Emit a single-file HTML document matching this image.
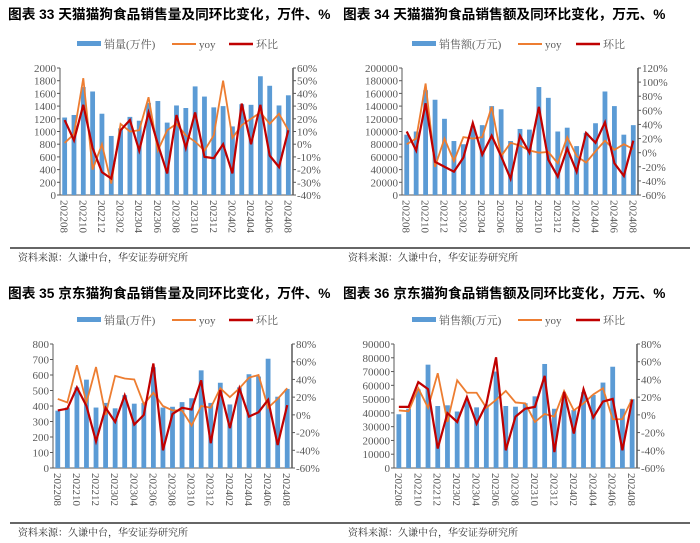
<!DOCTYPE html>
<html><head><meta charset="utf-8">
<style>
body{margin:0;background:#fff;width:700px;height:543px;overflow:hidden}
svg{display:block}
.t{font-family:"Liberation Sans","Noto Sans CJK SC",sans-serif;font-weight:bold;font-size:13.7px;fill:#000}
.s{font-family:"Liberation Serif","Noto Serif CJK SC",serif;font-size:10px;fill:#333}
.tk{font-family:"Liberation Serif",serif;font-size:11px;fill:#595959}
.lg{font-family:"Liberation Serif","Noto Serif CJK SC",serif;font-size:11px;fill:#595959}
</style></head>
<body>
<svg id="c" width="700" height="543" xmlns="http://www.w3.org/2000/svg">
<text class="t" x="8" y="19">图表 33 天猫猫狗食品销售量及同环比变化，万件、%</text>
<text class="t" x="343" y="19">图表 34 天猫猫狗食品销售额及同环比变化，万元、%</text>
<text class="t" x="8" y="298">图表 35 京东猫狗食品销售量及同环比变化，万件、%</text>
<text class="t" x="343" y="298">图表 36 京东猫狗食品销售额及同环比变化，万元、%</text>
<line x1="10" y1="248" x2="690" y2="248" stroke="#333" stroke-width="1.5"/>
<line x1="10" y1="523" x2="690" y2="523" stroke="#333" stroke-width="1.5"/>
<text class="s" x="18" y="261">资料来源：久谦中台，华安证券研究所</text>
<text class="s" x="348" y="261">资料来源：久谦中台，华安证券研究所</text>
<text class="s" x="18" y="536">资料来源：久谦中台，华安证券研究所</text>
<text class="s" x="348" y="536">资料来源：久谦中台，华安证券研究所</text>
</svg>
<script>
const months=["202208","202209","202210","202211","202212","202301","202302","202303","202304","202305","202306","202307","202308","202309","202310","202311","202312","202401","202402","202403","202404","202405","202406","202407","202408"];
const p1Bars=[1220,1260,1700,1630,1280,930,1050,1230,1170,1450,1480,1140,1410,1370,1710,1550,1380,1400,1080,1430,1420,1870,1720,1410,1570];
const p1Yoy=[1,8,52,-20,0,-31,16,10,11,37,-5,11,16,7,2,-5,7,50,5,15,20,25,16,24,11];
const p1Mom=[19,3,31,-3,-22,-27,11,19,-5,25,0,-23,23,-3,25,-10,-11,0,-23,32,0,31,-9,-18,11];
const p1LeftTicks=[0,200,400,600,800,1000,1200,1400,1600,1800,2000];
const p1RightTicks=[-40,-30,-20,-10,0,10,20,30,40,50,60];
const p2Bars=[95000,100000,165000,150000,120000,85000,80000,108000,110000,140000,135000,85000,104000,103000,170000,153000,100000,106000,77000,98000,113000,163000,140000,95000,110000];
const p2Yoy=[12,20,98,-20,20,-12,22,20,22,65,-5,14,10,3,0,1,-15,22,-5,-14,2,17,4,12,5];
const p2Mom=[30,3,70,-13,-20,-27,-7,42,-3,24,-5,-37,24,0,65,-10,-34,6,-27,28,14,43,-15,-33,17];
const p2LeftTicks=[0,20000,40000,60000,80000,100000,120000,140000,160000,180000,200000];
const p2RightTicks=[-60,-40,-20,0,20,40,60,80,100,120];
const p3Bars=[370,390,520,570,390,420,385,470,415,420,650,390,395,425,450,630,420,550,410,520,605,590,705,460,510];
const p3Yoy=[18,14,56,14,54,0,44,41,40,12,25,10,5,5,-12,10,8,30,20,30,42,45,8,18,30];
const p3Mom=[5,7,31,10,-30,8,-8,22,-11,0,58,-40,1,8,6,39,-32,28,-15,30,-2,3,17,-34,11];
const p3LeftTicks=[0,100,200,300,400,500,600,700,800];
const p3RightTicks=[-60,-40,-20,0,20,40,60,80];
const p4Bars=[39000,43000,57000,75000,45000,45500,41000,49000,44000,46000,70000,45000,44500,47000,52000,75500,43000,52000,42000,55000,53000,62000,73500,43000,50000];
const p4Yoy=[5,4,30,8,47,-8,39,25,25,8,17,27,14,13,-8,1,-2,27,5,13,23,30,-5,-5,18];
const p4Mom=[9,9,37,29,-38,2,-8,20,-10,12,65,-40,-2,7,9,44,-42,26,-21,29,-3,15,18,-40,17];
const p4LeftTicks=[0,10000,20000,30000,40000,50000,60000,70000,80000,90000];
const p4RightTicks=[-60,-40,-20,0,20,40,60,80];

const svg=document.getElementById('c');
const NS='http://www.w3.org/2000/svg';
function mk(tag,attrs,parent){const e=document.createElementNS(NS,tag);for(const k in attrs)e.setAttribute(k,attrs[k]);(parent||svg).appendChild(e);return e;}

function panel(id,box,bars,yoy,mom,lt,rt,barLabel,legY,legX){
  const g=mk('g',{});
  
  
  const [x0,x1,y0,y1]=box;
  const lmin=lt[0],lmax=lt[lt.length-1],rmin=rt[0],rmax=rt[rt.length-1];
  const n=months.length, step=(x1-x0)/n;
  const xs=i=>x0+step*(i+0.5);
  const yl=v=>y1-(v-lmin)/(lmax-lmin)*(y1-y0);
  const yr=v=>y1-(v-rmin)/(rmax-rmin)*(y1-y0);
  const ax=mk('line',{x1:x0,y1:y0,x2:x0,y2:y1,stroke:'#595959','stroke-width':1},g);
  
  
  const ax2=mk('line',{x1:x1,y1:y0,x2:x1,y2:y1,stroke:'#595959','stroke-width':1.5},g);
  
  
  const ax3=mk('line',{x1:x0,y1:y1,x2:x1,y2:y1,stroke:'#595959','stroke-width':1},g);
  
  
  lt.forEach(v=>{const t=mk('text',{x:x0-4,y:yl(v)+4,'text-anchor':'end',class:'tk'},g);t.textContent=v;
    
    
    mk('line',{x1:x0-3,x2:x0,y1:yl(v),y2:yl(v),stroke:'#595959'},g);});
  rt.forEach(v=>{const t=mk('text',{x:x1+4,y:yr(v)+4,class:'tk'},g);t.textContent=v+'%';
    
    
    mk('line',{x1:x1,x2:x1+3,y1:yr(v),y2:yr(v),stroke:'#595959'},g);});
  bars.forEach((v,i)=>{const r=mk('rect',{x:xs(i)-2.4,y:yl(v),width:4.8,height:y1-yl(v),fill:'#5B9BD5'},g);
    
    });
  const py=mk('polyline',{points:yoy.map((v,i)=>xs(i)+','+yr(v)).join(' '),fill:'none',stroke:'#ED7D31','stroke-width':1.8},g);
  
  
  const pm=mk('polyline',{points:mom.map((v,i)=>xs(i)+','+yr(v)).join(' '),fill:'none',stroke:'#C00000','stroke-width':2.2},g);
  
  
  months.forEach((m,i)=>{if(i%2)return;const t=mk('text',{x:0,y:0,class:'tk',transform:`translate(${xs(i)-4},${y1+5}) rotate(90)`},g);t.textContent=m;
    
    });
  const L=mk('g',{},g);
  
  
  mk('rect',{x:legX[0],y:legY-3,width:24,height:5,fill:'#5B9BD5'},L);
  const t1=mk('text',{x:legX[0]+27,y:legY+4,class:'lg'},L);t1.textContent=barLabel;
  
  
  mk('line',{x1:legX[1],x2:legX[1]+24,y1:legY,y2:legY,stroke:'#ED7D31','stroke-width':2},L);
  const t2=mk('text',{x:legX[1]+27,y:legY+4,class:'lg'},L);t2.textContent='yoy';
  
  
  mk('line',{x1:legX[2],x2:legX[2]+24,y1:legY,y2:legY,stroke:'#C00000','stroke-width':2.5},L);
  const t3=mk('text',{x:legX[2]+27,y:legY+4,class:'lg'},L);t3.textContent='环比';
  
  
}
panel('chart-33',[60,293,68,195],p1Bars,p1Yoy,p1Mom,p1LeftTicks,p1RightTicks,'销量(万件)',44,[77,172,229]);
panel('chart-34',[402,638,68,195],p2Bars,p2Yoy,p2Mom,p2LeftTicks,p2RightTicks,'销售额(万元)',44,[412,518,576]);
panel('chart-35',[53,292,344,468],p3Bars,p3Yoy,p3Mom,p3LeftTicks,p3RightTicks,'销量(万件)',320,[77,172,229]);
panel('chart-36',[394,637,344,468],p4Bars,p4Yoy,p4Mom,p4LeftTicks,p4RightTicks,'销售额(万元)',320,[412,518,576]);
</script>
</body></html>
